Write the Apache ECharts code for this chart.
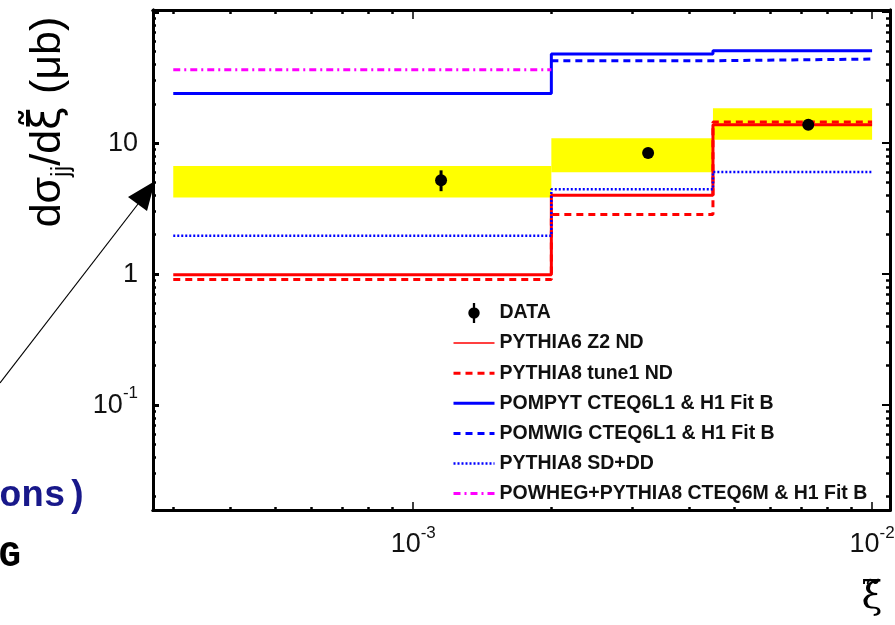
<!DOCTYPE html>
<html><head><meta charset="utf-8">
<script src="https://cdn.jsdelivr.net/npm/echarts@6/dist/echarts.min.js"></script>
<style>html,body{margin:0;padding:0;background:#fff}#c{width:895px;height:625px}</style>
</head><body><div id="c"></div>
<script>
// ---- data ----
const binEdges = [3e-4, 2e-3, 4.5e-3, 1e-2];
const dataX = [1.15e-3, 3.25e-3, 7.26e-3];
const dataY = [5.2, 8.4, 13.8];
const dataErrLo = [4.3, 7.7, 12.9];
const dataErrHi = [6.2, 9.2, 14.8];
const bandLo = [3.85, 6.0, 10.6];
const bandHi = [6.7, 10.9, 18.5];
const pythia6Z2 = [0.99, 4.0, 13.8];
const pythia8Tune1 = [0.91, 2.85, 14.5];
const pompyt = [24.0, 48.0, 50.8];
const pomwig = [null, 42.6, 43.9];
const pythia8SDDD = [1.96, 4.44, 6.03];
const powheg = [36.4, null, null];
const xMajorTicks = [1e-3, 1e-2];
const xMinorTicks = [3e-4, 4e-4, 5e-4, 6e-4, 7e-4, 8e-4, 9e-4, 2e-3, 3e-3, 4e-3, 5e-3, 6e-3, 7e-3, 8e-3, 9e-3];
const yMajorTicks = [0.1, 1, 10, 100];
const yLabelTicks = [0.1, 1, 10];
const yMinorTicks = [0.02, 0.03, 0.04, 0.05, 0.06, 0.07, 0.08, 0.09, 0.2, 0.3, 0.4, 0.5, 0.6, 0.7, 0.8, 0.9,
  2, 3, 4, 5, 6, 7, 8, 9, 20, 30, 40, 50, 60, 70, 80, 90];
const seriesNames = ['DATA', 'PYTHIA6 Z2 ND', 'PYTHIA8 tune1 ND', 'POMPYT CTEQ6L1 & H1 Fit B',
  'POMWIG CTEQ6L1 & H1 Fit B', 'PYTHIA8 SD+DD', 'POWHEG+PYTHIA8 CTEQ6M & H1 Fit B'];

const X_MIN = 2.71e-4, X_MAX = 1.094e-2, Y_MIN = 0.0158, Y_MAX = 104;

function stepPoints(vals) {
  const pts = [];
  let started = false;
  for (let i = 0; i < vals.length; i++) {
    if (vals[i] == null) {
      if (started) { pts.push([binEdges[i], vals[i - 1]]); started = false; }
      continue;
    }
    pts.push([binEdges[i], vals[i]]);
    started = true;
  }
  if (vals[vals.length - 1] != null) pts.push([binEdges[vals.length], vals[vals.length - 1]]);
  return pts;
}

function powLabel(v) {
  const e = Math.round(Math.log10(v));
  if (e === 0) return '1';
  if (e === 1) return '10';
  return '10{sup|' + e + '}';
}
const labelRich = { sup: { fontSize: 17, lineHeight: 40, verticalAlign: 'top', fontFamily: 'Liberation Sans', color: '#111' } };

function mkAxis(type, pos, ticks, len, w, labelVals) {
  const isX = type === 'x';
  const ax = {
    type: 'log', logBase: 10, position: pos,
    min: isX ? X_MIN : Y_MIN, max: isX ? X_MAX : Y_MAX,
    axisLine: { show: true, onZero: false, lineStyle: { color: '#000', width: 3 } },
    axisTick: { show: true, inside: true, length: len, customValues: ticks, lineStyle: { color: '#000', width: w } },
    axisLabel: { show: !!labelVals },
    splitLine: { show: false }, minorTick: { show: false }, minorSplitLine: { show: false }
  };
  if (labelVals) {
    ax.axisLabel = {
      show: true, customValues: labelVals, formatter: powLabel, rich: labelRich,
      fontSize: 27, fontFamily: 'Liberation Sans', color: '#111', margin: 15
    };
  }
  return ax;
}

const lineDefs = [
  { name: seriesNames[1], vals: pythia6Z2, color: '#ff0000', width: 3, legendWidth: 1.5, type: 'solid' },
  { name: seriesNames[2], vals: pythia8Tune1, color: '#ff0000', width: 3, legendWidth: 3, type: [7, 5] },
  { name: seriesNames[3], vals: pompyt, color: '#0000ff', width: 3, legendWidth: 3, type: 'solid' },
  { name: seriesNames[4], vals: pomwig, color: '#0000ff', width: 3, legendWidth: 3, type: [7, 5] },
  { name: seriesNames[5], vals: pythia8SDDD, color: '#0000ff', width: 2.5, legendWidth: 2.5, type: [2, 2] },
  { name: seriesNames[6], vals: powheg, color: '#ff00ff', width: 3, legendWidth: 3, type: [7, 4, 2, 4] }
];

const series = [];
series.push({
  type: 'custom', name: 'band', z: 1, silent: true,
  encode: { x: [0, 1], y: [2, 3] },
  data: binEdges.slice(0, 3).map((e, i) => [binEdges[i], binEdges[i + 1], bandLo[i], bandHi[i]]),
  renderItem: (params, api) => {
    const p0 = api.coord([api.value(0), api.value(3)]);
    const p1 = api.coord([api.value(1), api.value(2)]);
    return { type: 'rect', shape: { x: p0[0], y: p0[1], width: p1[0] - p0[0], height: p1[1] - p0[1] }, style: { fill: '#ffff00' } };
  }
});
lineDefs.forEach(d => series.push({
  type: 'line', name: d.name, step: 'end', symbol: 'none', z: 2, clip: true,
  data: stepPoints(d.vals),
  lineStyle: { color: d.color, width: d.width, type: d.type },
  itemStyle: { color: d.color }
}));
series.push({
  type: 'custom', name: 'DATA', z: 5,
  itemStyle: { color: '#000' },
  encode: { x: 0, y: [1, 2, 3] },
  data: dataX.map((x, i) => [x, dataY[i], dataErrLo[i], dataErrHi[i]]),
  renderItem: (params, api) => {
    const c = api.coord([api.value(0), api.value(1)]);
    const lo = api.coord([api.value(0), api.value(2)]);
    const hi = api.coord([api.value(0), api.value(3)]);
    return {
      type: 'group', children: [
        { type: 'line', shape: { x1: c[0], y1: lo[1], x2: c[0], y2: hi[1] }, style: { stroke: '#000', lineWidth: 3 } },
        { type: 'circle', shape: { cx: c[0], cy: c[1], r: 6 }, style: { fill: '#000' } }
      ]
    };
  }
});

const legendData = [{ name: 'DATA', icon: 'path://M4.2,0h1.6v14h-1.6z M1,7a4,4 0 1,1 8,0a4,4 0 1,1 -8,0z' }]
  .concat(lineDefs.map(d => ({ name: d.name, itemStyle: { opacity: 0 }, lineStyle: { width: d.legendWidth } })));

const chart = echarts.init(document.getElementById('c'), null, { renderer: 'canvas' });
chart.setOption({
  animation: false,
  backgroundColor: '#fff',
  grid: { left: 153, right: 5, top: 10, bottom: 115, containLabel: false, outerBoundsMode: 'none', show: false },
  xAxis: [
    mkAxis('x', 'bottom', xMajorTicks, 8, 1.5, xMajorTicks),
    mkAxis('x', 'bottom', xMinorTicks, 3, 2.5, null),
    mkAxis('x', 'top', xMajorTicks, 9, 1.5, null),
    mkAxis('x', 'top', xMinorTicks, 4, 2.5, null)
  ],
  yAxis: [
    mkAxis('y', 'left', yMajorTicks, 6, 3, yLabelTicks),
    mkAxis('y', 'left', yMinorTicks, 3, 2.5, null),
    mkAxis('y', 'right', yMajorTicks, 8, 2, null),
    mkAxis('y', 'right', yMinorTicks, 4, 2.5, null)
  ],
  legend: {
    orient: 'vertical', left: 447, top: 298, itemWidth: 41, itemHeight: 20, itemGap: 10.1,
    selectedMode: false,
    textStyle: { fontFamily: 'Liberation Sans', fontWeight: 'bold', fontSize: 19.5, color: '#111', padding: [0, 0, 0, 0] },
    data: legendData
  },
  graphic: [
    { type: 'text', x: 48, y: 122, rotation: Math.PI / 2, z: 10,
      style: { text: 'dσ{sub|jj}/d{xi|ξ̃} (μb)', fontSize: 43, fontFamily: 'Liberation Sans', fill: '#000', align: 'center', verticalAlign: 'middle',
        rich: {
          sub: { fontSize: 25, lineHeight: 54, verticalAlign: 'bottom', fontFamily: 'Liberation Sans', fill: '#000' },
          xi: { fontSize: 43, fontFamily: 'DejaVu Sans', fill: '#000' }
        } } },
    { type: 'text', x: 872, y: 598, z: 10,
      style: { text: 'ξ̃', fontSize: 38, fontFamily: 'DejaVu Serif', fill: '#000', align: 'center', verticalAlign: 'middle' } },
    { type: 'line', z: 10, shape: { x1: 0, y1: 383, x2: 138, y2: 204 }, style: { stroke: '#000', lineWidth: 1.2 } },
    { type: 'polygon', z: 10, shape: { points: [[155, 181], [128, 197], [147, 211]] }, style: { fill: '#000' } },
    { type: 'text', x: 88, y: 478, z: 10,
      style: { text: 'ons)', fontSize: 37, fontWeight: 'bold', fontFamily: 'Liberation Mono', fill: '#18188a', align: 'right', verticalAlign: 'alphabetic' } },
    { type: 'text', x: 21, y: 538, z: 10,
      style: { text: 'G', fontSize: 37, fontWeight: 'bold', fontFamily: 'Liberation Mono', fill: '#000', align: 'right', verticalAlign: 'alphabetic' } }
  ],
  series: series
});
</script>
</body></html>
